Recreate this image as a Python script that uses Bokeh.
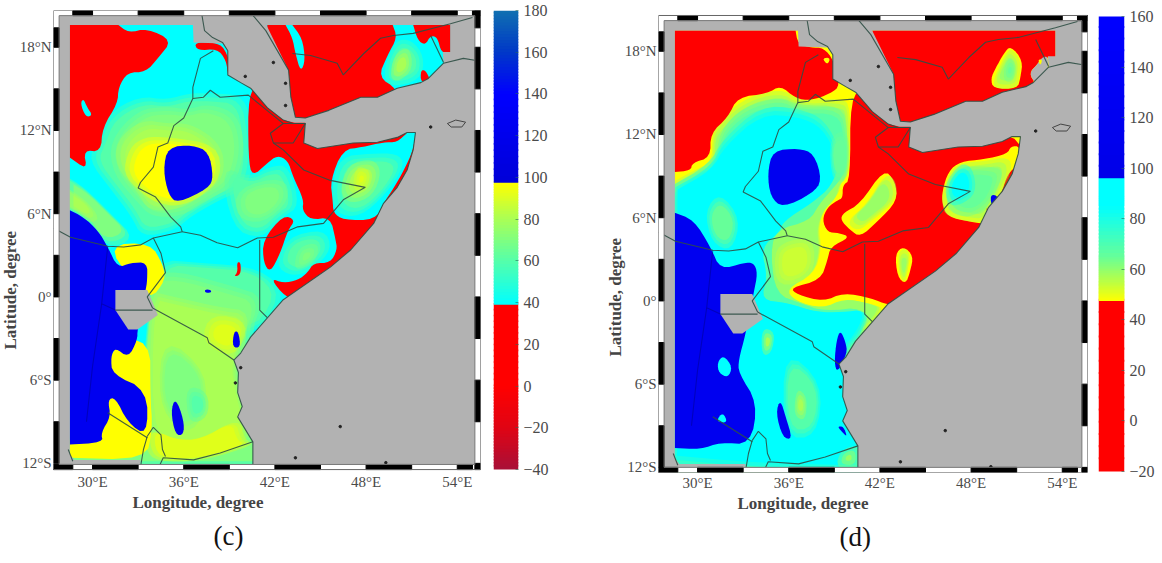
from bokeh.plotting import figure
from bokeh.layouts import row
from bokeh.models import FixedTicker, Range1d, Title
from bokeh.embed import file_html
from bokeh.resources import INLINE

GRAY = "#B2B2B2"; CY = "#00FFFF"; L1 = "#55FFAA"; L2 = "#80FF80"; L3 = "#AAFF55"; L4 = "#E0FF1A"
YE = "#FFFF00"; RED = "#FF0000"; BLUE = "#0000F0"; G6 = "#66FF99"; G9 = "#99FF66"; GC = "#CCFF33"
CYS = "#00FFFE"; YS = "#FFFF01"
SOFT = {L1, L2, L3, L4, G6, G9, GC, CYS, YS}

lon_ticks = [30, 36, 42, 48, 54]
lat_ticks = [18, 12, 6, 0, -6, -12]
lon_labels = {30: "30°E", 36: "36°E", 42: "42°E", 48: "48°E", 54: "54°E"}
lat_labels = {18: "18°N", 12: "12°N", 6: "6°N", 0: "0°", -6: "6°S", -12: "12°S"}

# ---- geography (lon, lat) ----
sea = [(36.6,19.7),(36.65,18.35),(38.55,18.27),(38.9,17.75),(38.9,16.0),(39.75,15.45),(40.4,15.05),(41.5,13.65),(42.55,12.75),(43.3,12.55),
       (44.0,12.55),(43.9,11.1),(44.8,10.7),(47.15,11.1),(48.75,11.15),(50.05,11.5),(50.7,11.85),(51.25,11.85),(51.1,10.6),(50.7,9.15),(50.05,7.9),
       (49.15,6.75),(48.5,5.3),(47,3.4),(45.65,2.15),(42.55,-0.2),(40.4,-2.9),(39.75,-4.05),(39.3,-4.55),(39.6,-5.45),(39.55,-6.9),(39.85,-7.9),
       (39.55,-8.65),(40.55,-10.45),(40.55,-12.3),(55.7,-12.3),(55.7,20),(53.55,20),(53.55,17.65),(53.05,17.65),(53.1,16.85),(52.1,15.75),(51.6,15.45),
       (50.05,15.05),(48.75,14.4),(47.65,14.4),(45.55,13.45),(44.0,12.9),(43.35,12.95),(43.05,14.4),(42.9,16.35),(41.4,19.7)]
lake_victoria = [(31.5,0.5),(33.6,0.5),(34.3,-1.3),(32.95,-2.35),(32.35,-2.35),(31.5,-0.95)]
sw_strip = [(28.4,-11.2),(28.8,-11.75),(33.15,-11.75),(33.15,-12.3),(28.4,-12.3)]

coast_africa = [(37.17,20.5),(37.37,19.2),(37.9,18.7),(38.55,18.35),(38.9,17.75),(38.9,16.0),(39.75,15.45),(40.4,15.05),(41.5,13.65),(42.55,12.75),(43.2,12.5),
                (44.0,12.5),(43.9,11.1),(44.8,10.7),(47.15,11.1),(48.75,11.15),(50.05,11.5),(50.7,11.85),(51.25,11.85),(51.1,10.6),(50.7,9.15),(50.05,7.9),
                (49.15,6.75),(48.5,5.3),(47,3.4),(45.65,2.15),(42.55,-0.2),(40.4,-2.9),(39.75,-4.05),(39.3,-4.55),(39.6,-5.45),(39.55,-6.9),(39.85,-7.9),
                (39.55,-8.65),(40.55,-10.45),(40.55,-12.3)]
coast_arabia = [(40.4,20.5),(41.4,19.2),(42.9,16.35),(43.05,14.4),(43.35,12.95),(44.0,12.9),(45.55,13.45),(47.65,14.4),(48.75,14.4),(50.05,15.05),(51.6,15.45),
                (52.1,15.75),(53.1,16.85),(54.4,17.2),(55.25,17.05),(55.5,17.1)]
borders = [
 [(37.95,17.75),(37.1,17.2),(36.6,15.1),(36.6,14.3),(36,12.9),(35.35,12.35),(34.95,11.1),(34.3,10.8),(34,9.35),(33.15,8.25),(33,7.85),(34.15,7.2),(35.15,5.75),(35.8,5.05),(35.9,4.7),(34,4.25),(33.15,3.75),(32.05,3.6),(31,3.65),(28.55,4.3),(27.45,4.95)],
 [(36.6,14.3),(37.3,14.4),(37.75,14.9),(38.4,14.4),(40.25,14.55),(41.7,13.25),(42.55,12.5)],
 [(35.9,4.7),(37.1,4.45),(38.2,3.9),(39.55,3.55),(40.85,4.25),(41.9,4.3),(43.5,5.05),(45.2,5.3),(45.65,5.9),(46.5,7),(47.95,7.9),(45.65,8.4),(43.9,9.15),(42.55,10.6),(41.9,11.1)],
 [(41.9,11.1),(43.2,11.1),(44,12.5),(42.55,12.5),(41.7,11.8),(41.9,11.1)],
 [(41,4.1),(41,-0.95),(41.5,-1.5)],
 [(34,4.25),(34.5,3.15),(34.8,1.75),(33.6,0),(33.95,-0.8)],
 [(33.95,-0.8),(37.55,-2.95),(37.65,-3.3),(39.3,-4.55)],
 [(31.5,-0.95),(33.95,-0.95)],
 [(40.55,-10.45),(38.4,-11.25),(36.65,-11.75),(34.65,-11.6),(34.35,-12.3)],
 [(33.6,-10.05),(34,-9.4),(34.5,-9.95),(34.6,-11),(34.8,-11.5)],
 [(33.6,-10.05),(33.35,-11),(33.15,-12.3)],
 [(31,-8.35),(33.6,-10.15)],
 [(28.4,-11),(28.7,-11.85)],
 [(43.15,17.55),(44.35,17.4),(46.1,16.85),(46.5,16),(47.85,17.55),(48.95,18.65),(49.8,18.85),(51.1,19),(53.55,19.7),(55,20.15)],
 [(52.25,18.85),(53.1,16.9)],
]
blue_borders = [
 [(31,3.65),(30.6,-0.5),(31.5,-0.95)],
 [(30.6,-0.5),(30,-5),(29.6,-9)],
]
island_lon = [41.9,42.7,40.05,42.7,52.25,46.3,43.35,49.3,39.75,39.4]
island_lat = [16.9,15.4,15.9,13.8,12.25,-9.35,-11.6,-11.95,-5.1,-6.2]
socotra_lon = [53.35,53.9,54.55,54.3,53.6,53.35]
socotra_lat = [12.5,12.75,12.6,12.25,12.25,12.5]

# frame segments painted black
top_black = [(28.7,30),(33,36),(39,42),(45,48),(51,54),(55,55.7)]
bottom_black = [(27.4,28.7),(30,33),(36,39),(42,45),(48,51),(54,55)]
left_black = [(18,19.4),(12,15),(6,9),(0,3),(-6,-3),(-12,-9)]
right_black = [(19.4,20.7),(15,18),(9,12),(3,6),(-3,0),(-9,-6),(-12.5,-12)]

# ---- panel (c) field ----
c_layers = [
 (L1,[(31.2,12.95),(33.15,14.2),(34.95,13.95),(36.25,14.4),(37.95,14.4),(39.75,14.2),(40.2,11.8),(40.25,9.35),(39.75,7.9),(37.95,7),(36.45,6.05),(35.35,5.05),(33.35,4.6),(32.7,6.05),(31.4,7.9),(30.05,9.85),(30.55,11.1)]),
 (L2,[(31.4,11.1),(33.15,13.25),(34.95,13.45),(36.25,13.25),(37.55,13.65),(39.3,12.95),(39.75,10.6),(39.1,8.2),(37.55,7.2),(35.8,6.05),(34,6.05),(33.15,7),(31.65,8.9)]),
 (L3,[(31.85,11.1),(33.35,12.5),(34.95,12.25),(36.25,12.25),(37.75,11.3),(38.4,10.05),(38.2,8.4),(36.65,7.2),(35.35,6.5),(33.8,6.5),(33.15,7.7),(31.85,9.35)]),
 (YS,[(32.7,10.6),(33.6,11.3),(34.95,11.3),(37.95,10.8),(38.2,8.65),(36.9,7.35),(35.6,6.75),(34.3,7),(33.35,7.7),(32.3,8.9)]),
 (L2,[(28.5,8.4),(29.55,7.7),(31.2,5.9),(32.5,4.45),(30.85,3.75),(29.55,5.9),(28.5,6.4)]),
 (L3,[(28.5,7.6),(29.5,6.9),(30.2,5.9),(29.7,5.6),(28.5,6.5)]),
 (L1,[(38.75,9.15),(40.4,8.4),(41.7,9.15),(42.7,9.15),(43.35,6.6),(42.35,5.9),(41.05,4.45),(39.4,5.2)]),
 (L2,[(39.75,7.7),(42.35,8.4),(42.7,7),(41.2,5.55),(39.75,5.9)]),
 (L1,[(34.45,2.5),(37.1,2.3),(40.9,1.95),(42.5,0),(40.4,-2.9),(33.8,-1)]),
 (L2,[(33.8,1.2),(35.45,1.6),(39.1,0.5),(41.05,-0.2),(40.05,-3.1),(41,-12.15),(28.5,-12.15),(28.5,-10),(33,-10),(33.8,-0.2)]),
 (L3,[(33.8,0.15),(35.15,-0.2),(38.1,-0.95),(40.4,-1.3),(39.2,-4.55),(39.6,-7.4),(40.4,-10.3),(37.1,-11.35),(33.8,-11.35)]),
 (L2,[(34.8,-3.1),(37.45,-5.6),(37.1,-8.85),(35.8,-9.55),(34.45,-7.4)]),
 (L1,[(36.3,-6.7),(37.45,-7.05),(37.45,-8.5),(36.45,-8.85)]),
 (L4,[(38,-1.5),(40.05,-2),(39.2,-4.15),(37.45,-3.1)]),
 (L4,[(33.8,-9.55),(35.45,-10.3),(37.1,-10.3),(39.4,-8.85),(39.75,-10.3),(40.4,-10.65),(37.1,-11.75),(34.45,-11.75),(33.8,-11)]),
 (YE,[(30.55,-8.85),(28.5,-10.3),(28.5,-11.6),(33.5,-11.75),(33.95,-9.55),(33.8,-7.05),(33.8,-3.1),(31.2,-3.1)]),
 (YE,[(31,3.75),(33.8,3.9),(34.65,2.3),(34.8,1.2),(33.8,-0.2),(32.5,1.2)]),
 (L1,[(49.4,16.55),(50.05,18.25),(50.9,18.25),(51.6,17.25),(51.4,15.85),(49.6,15.4)]),
 (L3,[(49.95,17.25),(50.7,17.75),(50.9,16.55),(50.25,15.85),(49.75,16)]),
 (L1,[(43,4.1),(45,4.6),(45.45,3.4),(44.35,2.15),(43.25,1.75),(42.35,2.45)]),
 (L2,[(43.7,3.4),(44.65,3.6),(44.5,2.65),(43.5,2.15)]),
 (RED,[(28.5,19.6),(31.7,19.6),(32.35,19.05),(33.6,19.35),(35.25,18.5),(34.3,17.2),(33.5,16.2),(32.3,16.2),(31.7,15.1),(31.65,13.95),(30.65,12.2),(30.55,10.45),(29.4,10.6),(29.65,9.15),(28.5,10.05)]),
 (CY,[(29.2,13.95),(29.4,14.3),(29.65,13.65),(30,13.1),(29.55,12.95)]),
 (RED,[(36.7,18.35),(37.95,18.35),(38.7,18),(39.3,15.95),(38.9,15.95),(38.8,17.05),(38.2,17.9),(36.9,17.75)]),
 (RED,[(40.25,14.7),(40.25,10.05),(40.5,8.65),(41.5,9.65),(42.15,10.2),(42.85,9.85),(43.2,8.65),(43.9,7),(43.8,6.25),(44.35,5.55),(45.65,5.75),(46,4.1),(46.1,3.4),(45.65,2.45),(44.55,2.45),(44.15,1.75),(43.5,1.2),(42.55,1),(41.7,1.35),(42.7,-0.05),(43.7,-0.2),(47.6,1.2),(51.6,7),(51.6,12),(47.6,12),(44.35,13.1),(43,14.2),(41,15.25)]),
 (CY,[(46.45,10.6),(47.75,10.8),(49.15,11.15),(50.05,11.15),(50.7,11.85),(51.25,11.85),(51.1,10.6),(50.5,9.15),(49.85,7.9),(49.15,6.75),(48.6,5.55),(46.5,5.55),(45.85,6.05),(45.8,7),(45.65,8.4)]),
 (L1,[(46.5,9.85),(48.3,10.05),(49.8,10.05),(50.25,9.35),(49.15,7.5),(47.65,6.05),(46.3,6.25),(46,7.7)]),
 (L3,[(47,9.35),(48.3,9.65),(48.75,8.9),(48.3,7.5),(47.15,7),(46.5,7.7)]),
 (L4,[(47.45,9.15),(48.1,8.9),(47.95,8.05),(47.3,7.9)]),
 (RED,[(41.2,4.1),(42.55,5.9),(43.35,5.55),(42.85,4.8),(42.35,3.15),(41.7,1.75),(41.25,2.45)]),
 (RED,[(41.5,19.6),(42.7,19.6),(43.15,18.7),(43.35,17.55),(43.7,16.2),(44,17.05),(43.8,18.65),(43.15,19.6),(49.75,19.6),(50.05,18.7),(49.4,17.4),(48.8,15.85),(50.05,15),(50.25,13.45),(43.7,12),(42.7,14.4),(41.5,18.5)]),
 (RED,[(51.1,19.6),(53.55,19.6),(53.55,17.6),(52.95,17.6),(52.7,18.7),(52.25,18.85),(51.9,18.15),(51.4,18.5)]),
 (RED,[(51.6,16.35),(51.9,16.35),(52.25,15.6),(51.6,15.45)]),
 (RED,[(39.3,1.45),(39.75,1.6),(39.75,2.5),(39.5,2.5),(39.55,1.8)]),
 (BLUE,[(28.5,6.25),(29.4,5.75),(30.35,4.8),(31,3.6),(31.65,2.1),(32.5,2.45),(33.6,2.5),(33.6,1.2),(33.5,0.5),(32.95,-2.35),(32.95,-3.1),(32.35,-4.4),(31.5,-3.65),(31.2,-4.3),(31.3,-5.6),(33.6,-6.7),(33.6,-10.05),(32.3,-9.05),(31.5,-7.25),(31,-7.4),(31.2,-8.65),(30.55,-9.8),(30.7,-10.5),(28.5,-10.65)]),
 (BLUE,[(34.95,10.8),(36.6,10.95),(37.65,10.45),(37.95,8.65),(37.65,7.85),(35.6,6.75),(35,7.35),(34.65,9.15)]),
 (BLUE,[(39.3,-2.5),(39.6,-2.5),(39.75,-3.65),(39.2,-3.65)]),
 (BLUE,[(35.15,-8.25),(35.45,-7.25),(36,-8.85),(36,-9.95),(35.45,-9.95)]),
 (BLUE,[(37.4,0.55),(37.8,0.5),(37.8,0.3),(37.4,0.3)]),
]

# ---- panel (d) field ----
d_layers = [
 (G9,[(31.3,12.35),(32.85,14.2),(35.45,15.05),(36.6,14.2),(39.4,14.3),(39.95,13.8),(39.95,9),(39.4,8.55),(39.2,7.55),(38.3,6.6),(37.9,5.2),(38.1,3.75),(37.65,1.95),(35.8,0.85),(36.45,-0.05),(38.3,-0.6),(39.75,0.15),(41.4,-0.2),(42.25,-0.6),(40.05,-3.1),(41,-12.15),(28.5,-12.15),(28.5,8.4),(29.75,9.15),(31.05,9.85),(31.05,11.65)]),
 (GC,[(36,4.1),(37.45,4.25),(37.45,1.95),(35.45,1.2),(35.25,3.4)]),
 (L1,[(31.5,12),(33.15,13.8),(35.45,14.45),(36.6,13.8),(39.4,13.8),(39.75,12),(39.75,9.3),(39.1,8.4),(38,7),(37.45,5.9),(35.15,5.2),(34.8,3.4),(35.15,0.5),(36.8,-0.2),(38.4,-0.8),(41.2,-0.45),(40.7,-2.75),(41,-12.15),(28.5,-12.15),(28.5,7.5),(29.85,8.8),(31.3,9.5)]),
 (CYS,[(31.7,11.35),(34.15,13.75),(36.6,13.6),(38.3,12.8),(39.4,10.35),(38.95,8.5),(37.65,7.25),(35.65,5.85),(35.45,5.1),(34.15,3.9),(34.6,1.75),(34.15,0.05),(35.9,-0.15),(37.9,-0.85),(39.6,-0.85),(41.2,-0.65),(40.6,-2.3),(39.6,-3.55),(39.6,-5.2),(40.55,-10),(40.55,-12.15),(33.5,-11.95),(28.5,-11.45),(28.55,8.2),(30.85,9.65)]),
 (G6,[(31.5,7.5),(32.65,5.85),(32.15,3.9),(31.05,4.4),(30.65,6.35)]),
 (G6,[(38.75,11.6),(39.85,12.1),(39.9,9.2),(38.95,8.7)]),
 (L1,[(35.8,-3.8),(38.1,-6),(37.75,-9.55),(35.8,-9.55)]),
 (L3,[(34.35,-2.25),(34.95,-2.45),(34.8,-3.5),(34.35,-3.65)]),
 (L3,[(36.6,-6.6),(37.1,-7.1),(37,-8.35),(36.45,-8.05)]),
 (G9,[(39.6,-10.95),(40.4,-10.7),(40.4,-11.85),(39.4,-11.8)]),
 (RED,[(28.5,19.5),(36.45,19.5),(36.6,18.55),(37.45,18.25),(38.3,18.25),(38.95,17.35),(39.4,15.55),(38.75,14.95),(37.45,14.45),(36.45,14.6),(35.45,15.55),(34.6,14.95),(32.65,14.7),(32,13.25),(30.85,12.1),(30.85,10.35),(29.65,9.95),(29.55,9.4),(28.5,9.3)]),
 (YE,[(38.2,17.5),(38.75,17.55),(38.55,17)]),
 (RED,[(40.05,14.7),(40.05,8.7),(39.55,8.35),(39.55,7.4),(39.2,7.25),(38.55,6.75),(38.2,5.85),(38.55,4.95),(39.3,4.9),(40.05,4.6),(38.75,3.9),(38.55,2.95),(38.1,1.5),(36.1,0.95),(36.55,0.45),(38.3,-0.05),(39.6,0.6),(41.4,0.2),(42.55,-0.3),(43.7,-0.2),(47.6,1.2),(51.6,7),(51.6,12),(47.6,12),(44.35,13.1),(43,14.2),(41,15.25)]),
 (YE,[(39.6,6.35),(40.7,7),(42.25,9.5),(43,8.65),(43.15,7.2),(41.85,5.75),(40.7,4.6),(40.05,5.1),(39.4,5.85)]),
 (G9,[(41.2,7),(42.25,8.9),(42.85,8.4),(42.85,7.2),(41.55,6.05),(40.7,5.3),(40.05,5.9)]),
 (RED,[(41.5,19.5),(53.55,19.5),(53.55,17.55),(52.7,17.55),(52.35,17.05),(51.8,16.4),(52.3,15.6),(50.25,13.45),(43.7,12),(42.7,14.4),(41.5,18.5)]),
 (GRAY,[(52.7,17.6),(52.35,17.05),(51.8,16.4),(52.3,15.6),(53,16.2),(53.1,17.6)]),
 (YE,[(52.4,17.4),(52.7,17.4),(52.55,16.95)]),
 (YE,[(50.6,18.4),(51.4,17.35),(51.25,16.1),(51.05,15.3),(49.45,15.3),(49.3,16.05),(49.6,16.75),(50.15,17.85)]),
 (G9,[(50.6,17.9),(51.1,17.2),(51,16.1),(50.8,15.6),(49.7,15.6),(49.7,16.2),(50,16.9),(50.3,17.6)]),
 (G6,[(50.6,17.3),(50.85,16.8),(50.7,16.1),(50.3,16.1),(50.3,16.8)]),
 (YE,[(46.1,7.9),(46.5,9.35),(47.3,10.05),(48.8,10.2),(50.4,10.6),(50.6,11.15),(51.25,11.15),(51.1,9.85),(50.4,9.15),(50.05,7.9),(49.45,6.75),(49.05,5.55),(47.95,5.7),(46.45,6.05),(46.1,7)]),
 (G9,[(46.4,7.8),(46.8,9.1),(47.4,9.7),(48.8,9.8),(50.2,10.1),(50.4,9.3),(49.85,8),(49.3,6.9),(48.85,5.95),(47.9,6),(46.6,6.4),(46.4,7)]),
 (G6,[(46.6,7.7),(47,8.9),(47.6,9.4),(49,9.4),(49.8,9.2),(49.5,8),(48.9,6.9),(47.9,6.3),(46.9,6.6)]),
 (CYS,[(46.45,8.4),(47.3,9.65),(47.95,9.35),(48.15,7.9),(47.3,7.2),(46.65,7.2)]),
 (BLUE,[(49.3,7.7),(49.8,7.55),(49.6,6.85),(49.3,7)]),
 ("#E03000",[(50.05,8.2),(50.8,9.5),(50.9,9.15),(50.4,7.9)]),
 ("#E06000",[(48.95,6.75),(49.3,6.45),(49.15,6.25)]),
 (YE,[(43,3.4),(43.55,3.95),(44.2,3.25),(44,2.15),(43.7,1.2),(43.15,1.75)]),
 (G9,[(43.3,3.2),(43.6,3.5),(43.9,3.15),(43.75,2.2),(43.6,1.6),(43.35,2.1)]),
 (BLUE,[(28.5,6.35),(29.75,5.85),(30.85,3.9),(31.5,2.25),(33.05,2.75),(33.7,2.75),(33.95,2),(33.7,0.6),(33.15,-2.45),(32.7,-4.25),(32.7,-5.2),(33.95,-7.35),(33.5,-10.35),(31.5,-10.2),(30.2,-10.7),(28.5,-10.6)]),
 (CY,[(31.3,-4.45),(31.7,-3.9),(32.3,-4.75),(32,-5.55),(31.4,-5.2)]),
 (CY,[(31.2,-8.7),(31.65,-8),(32,-8.8)]),
 (BLUE,[(34.95,10.85),(36.65,11),(37.65,10.65),(38.2,8.7),(37.55,7.75),(35.6,6.7),(34.8,7.5),(34.6,9.2)]),
 (BLUE,[(35.45,-7.1),(35.8,-8.35),(36.25,-10),(35.6,-9.85),(35.15,-8.05)]),
 (BLUE,[(39.4,-2.1),(39.75,-3),(39.85,-3.75),(39.2,-5.2),(39,-4.45),(39.15,-2.8)]),
 (BLUE,[(39.2,-9.05),(39.6,-9.05),(39.85,-9.8),(39.55,-9.5)]),
]

# ---- colour bars ----
cb_c_ticks = [180,160,140,120,100,80,60,40,20,0,-20,-40]
cb_c_values = [-40,-20,0,39,39,60,80,97.5,97.5,140,160,180]
cb_c_colors = ["#A81038","#E00414","#FF0000","#FF0000","#00FFFF","#55FFAA","#AAFF55","#FFFF00","#0000D8","#0000FF","#0038C8","#1070B0"]
cb_d_ticks = [160,140,120,100,80,60,40,20,0,-20]
cb_d_values = [-20,47.5,47.5,55,65,85,96,96,160]
cb_d_colors = ["#FF0000","#FF0000","#FFFF00","#BBFF44","#66FF99","#00FFFF","#00FFFF","#0000E8","#0000FF"]

SERIF = "Liberation Serif"; TXT = "#4a4a4a"; HEIGHT = 560; FRAME_TOP = 10; FRAME_BOTTOM = 87


def rounded(poly, passes=2):
    """Round the corners of a hand-traced outline; corners on the data edge stay."""
    pts = list(poly)
    for _ in range(passes):
        out = []
        n = len(pts)
        for i, (x, y) in enumerate(pts):
            if x <= 28.55 or x >= 53.5 or y >= 19.45 or y <= -12.1:
                out.append((x, y))
                continue
            px, py = pts[i - 1]
            nx, ny = pts[(i + 1) % n]
            out.append((0.75 * x + 0.25 * px, 0.75 * y + 0.25 * py))
            out.append((0.75 * x + 0.25 * nx, 0.75 * y + 0.25 * ny))
        pts = out
    return pts


def fill(p, poly, color, alpha=1.0):
    xs, ys = zip(*poly)
    p.patch(list(xs), list(ys), fill_color=color, fill_alpha=alpha, line_color=None)


def grow(poly, d):
    xs, ys = zip(*poly)
    cx, cy = (min(xs) + max(xs)) / 2, (min(ys) + max(ys)) / 2
    size = max(max(xs) - min(xs), max(ys) - min(ys)) / 2
    s = 1 + d / size
    return [(cx + (x - cx) * s, cy + (y - cy) * s) for x, y in poly]


def line(p, pts, color="#2f4f45", width=1.1, alpha=0.9):
    xs, ys = zip(*pts)
    p.line(list(xs), list(ys), line_color=color, line_width=width, line_alpha=alpha)


def panel(width, top_lat, bot_lat, vis_top, vis_bot, right_lon, base, layers, letter, letter_offset, extent_top, lat_offset, x_standoff):
    left_lon = 27.43
    p = figure(width=width, height=HEIGHT, x_range=Range1d(left_lon, right_lon), y_range=Range1d(bot_lat, top_lat),
               output_backend="svg", toolbar_location=None, min_border_left=53, min_border_right=3,
               min_border_top=FRAME_TOP, min_border_bottom=FRAME_BOTTOM, background_fill_color=None,
               border_fill_color=None, outline_line_color=None)
    p.grid.visible = False
    p.xaxis.ticker = FixedTicker(ticks=lon_ticks); p.yaxis.ticker = FixedTicker(ticks=lat_ticks)
    p.xaxis.major_label_overrides = lon_labels; p.yaxis.major_label_overrides = lat_labels
    for ax in (p.xaxis[0], p.yaxis[0]):
        ax.axis_line_color = None; ax.major_tick_line_color = None; ax.minor_tick_line_color = None
        ax.major_tick_out = 0; ax.major_tick_in = 0; ax.minor_tick_out = 0; ax.minor_tick_in = 0
        ax.major_label_text_font = SERIF; ax.major_label_text_font_size = "15px"
        ax.major_label_text_color = TXT
    p.xaxis[0].major_label_standoff = x_standoff
    p.yaxis[0].major_label_standoff = 2
    p.quad(left=[left_lon], right=[right_lon], bottom=[vis_bot], top=[vis_top], fill_color=GRAY, line_color=None)
    p.quad(left=[28.5], right=[53.55], bottom=[-12.15], top=[extent_top], fill_color=base, line_color=None)
    for color, poly in layers:
        shape = rounded(poly)
        if color in SOFT:
            fill(p, grow(shape, 0.3), color, 0.4)
            fill(p, shape, color, 0.5)
            fill(p, grow(shape, -0.3), color, 1.0)
        else:
            fill(p, shape, color)
    # outside the data extent the map stays gray
    p.quad(left=[left_lon], right=[28.5], bottom=[vis_bot], top=[vis_top], fill_color=GRAY, line_color=None)
    p.quad(left=[left_lon], right=[right_lon], bottom=[extent_top], top=[vis_top], fill_color=GRAY, line_color=None)
    p.quad(left=[left_lon], right=[right_lon], bottom=[vis_bot], top=[-12.15], fill_color=GRAY, line_color=None)
    fill(p, sea, GRAY); fill(p, lake_victoria, GRAY); fill(p, sw_strip, GRAY)
    line(p, coast_africa); line(p, coast_arabia)
    for b in borders:
        line(p, b)
    for b in blue_borders:
        line(p, b, color="#00008C", alpha=0.5)
    p.scatter(island_lon, island_lat, size=2.5, color="#222222")
    p.line(socotra_lon, socotra_lat, line_color="#444444", line_width=1)
    # checkered frame
    dx = 0.37; dy = 0.37
    p.quad(left=[left_lon], right=[right_lon], bottom=[vis_top - dy], top=[vis_top], fill_color="white", line_color=None)
    p.quad(left=[left_lon], right=[right_lon], bottom=[vis_bot], top=[vis_bot + dy], fill_color="white", line_color=None)
    p.quad(left=[left_lon], right=[left_lon + dx], bottom=[vis_bot], top=[vis_top], fill_color="white", line_color=None)
    p.quad(left=[right_lon - dx], right=[right_lon], bottom=[vis_bot], top=[vis_top], fill_color="white", line_color=None)
    p.quad(left=[a for a, b in top_black], right=[b for a, b in top_black], bottom=vis_top - dy, top=vis_top, color="black")
    p.quad(left=[a for a, b in bottom_black], right=[b for a, b in bottom_black], bottom=vis_bot, top=vis_bot + dy, color="black")
    p.quad(left=left_lon, right=left_lon + dx, bottom=[max(a, vis_bot) for a, b in left_black], top=[min(b, vis_top) for a, b in left_black], color="black")
    p.quad(left=right_lon - dx, right=right_lon, bottom=[max(a, vis_bot) for a, b in right_black], top=[min(b, vis_top) for a, b in right_black], color="black")
    p.line([left_lon + dx, right_lon - dx, right_lon - dx, left_lon + dx, left_lon + dx],
           [vis_bot + dy, vis_bot + dy, vis_top - dy, vis_top - dy, vis_bot + dy], line_color="#777777", line_width=1)
    p.line([left_lon, right_lon, right_lon, left_lon, left_lon],
           [vis_bot, vis_bot, vis_top, vis_top, vis_bot], line_color="#666666", line_width=1)
    p.add_layout(Title(text="Longitude, degree", align="left", offset=79, standoff=-4, text_font=SERIF, text_font_style="bold",
                       text_font_size="17px", text_color="#444444"), "below")
    p.add_layout(Title(text=letter, align="left", offset=letter_offset, standoff=18, text_font=SERIF, text_font_style="normal",
                       text_font_size="27px", text_color="#111111"), "below")
    p.add_layout(Title(text="Latitude, degree", align="left", offset=lat_offset, standoff=-7, text_font=SERIF, text_font_style="bold",
                       text_font_size="17px", text_color="#444444"), "left")
    return p


def blend(c0, c1, t):
    a = [int(c0[i:i + 2], 16) for i in (1, 3, 5)]
    b = [int(c1[i:i + 2], 16) for i in (1, 3, 5)]
    return "#%02x%02x%02x" % tuple(round(u + (v - u) * t) for u, v in zip(a, b))


def colorbar(width, left, right, range_bot, range_top, vals, cols, ticks):
    p = figure(width=width, height=HEIGHT, x_range=Range1d(0, 1), y_range=Range1d(range_bot, range_top),
               output_backend="svg", toolbar_location=None, min_border_left=left, min_border_right=right,
               min_border_top=FRAME_TOP, min_border_bottom=FRAME_BOTTOM, y_axis_location="right",
               border_fill_color=None, outline_line_color=None, x_axis_location=None)
    p.grid.visible = False
    bot, tp, colors = [], [], []
    for i in range(len(vals) - 1):
        if vals[i + 1] == vals[i]:
            continue
        n = 14
        step = (vals[i + 1] - vals[i]) / n
        for k in range(n):
            bot.append(vals[i] + k * step)
            tp.append(min(vals[i] + (k + 1) * step + 0.8, max(vals)))
            colors.append(blend(cols[i], cols[i + 1], (k + 0.5) / n))
    p.quad(left=0, right=1, bottom=bot, top=tp, fill_color=colors, line_color=None)
    ax = p.yaxis[0]
    ax.ticker = FixedTicker(ticks=ticks)
    ax.axis_line_color = None; ax.minor_tick_line_color = None
    ax.major_tick_in = 3; ax.major_tick_out = 0; ax.major_tick_line_color = "#2a6a5a"; ax.major_tick_line_alpha = 0.6
    ax.major_label_text_font = SERIF; ax.major_label_text_font_size = "16px"
    ax.major_label_text_color = TXT; ax.major_label_standoff = 5
    return p


fig_c = panel(483, 20.65, -12.66, 20.65, -12.45, 55.53, CY, c_layers, "(c)", 160, 19.6, 123, 1)
cb_c = colorbar(122, 10, 87, -41.43, 180, cb_c_values, cb_c_colors, cb_c_ticks)
fig_d = panel(485, 20.94, -12.37, 20.58, -12.37, 55.66, YE, d_layers, "(d)", 181, 19.5, 116, 2)
cb_d = colorbar(70, 8, 36, -20.39, 162.37, cb_d_values, cb_d_colors, cb_d_ticks)

page = row(fig_c, cb_c, fig_d, cb_d, spacing=0)
open("out.html", "w").write(file_html(page, INLINE))
